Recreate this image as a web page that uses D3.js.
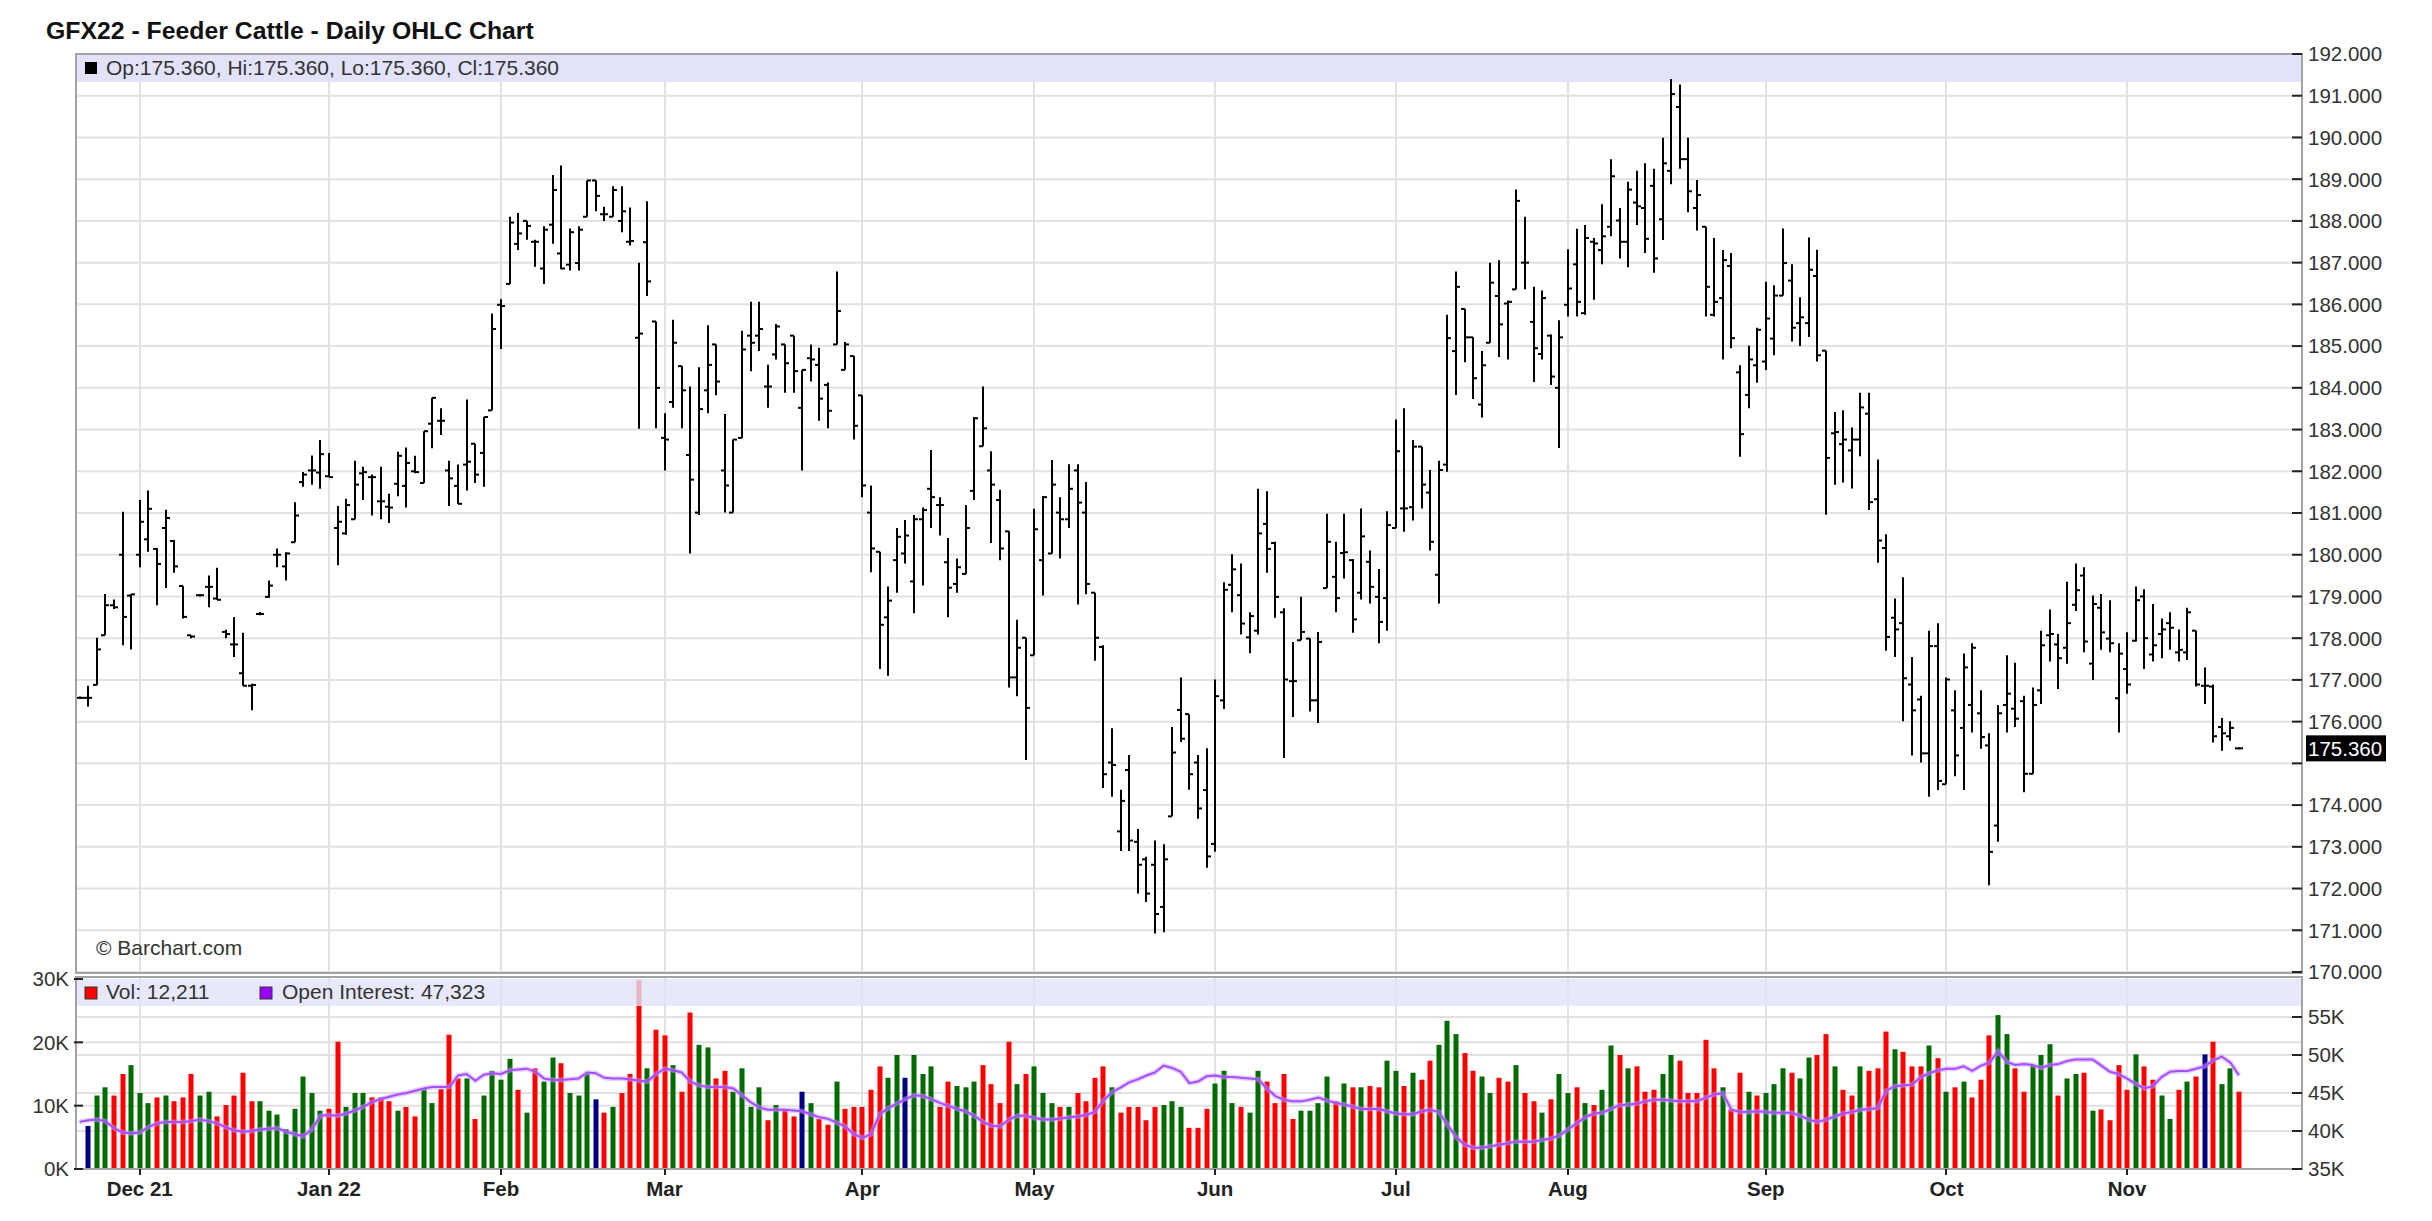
<!DOCTYPE html>
<html><head><meta charset="utf-8">
<script src="https://cdn.jsdelivr.net/npm/d3@7"></script>
<style>body{margin:0;background:#fff}svg{display:block}text{font-family:"Liberation Sans",Arial,sans-serif}</style>
</head><body><svg id="c" width="2432" height="1221"></svg>
<script>
// ---- DATA (one entry per trading day, Nov 19 2021 .. Nov 18 2022) ----
const openP=[176.57,176.57,176.88,178.07,178.79,180.00,179.02,180.00,180.37,180.14,
180.64,180.33,179.25,178.07,179.03,179.23,178.95,178.15,177.85,177.16,
176.86,178.58,178.99,180.00,179.72,180.30,181.74,182.02,181.97,181.88,
180.64,180.51,180.85,181.95,181.86,181.28,181.15,181.70,181.65,182.00,
181.72,183.14,183.21,182.02,181.65,182.16,182.66,182.44,183.46,185.99,
186.49,187.45,188.00,187.50,186.86,187.91,187.22,186.95,186.99,188.10,
188.97,188.16,188.10,188.00,187.50,185.20,187.49,185.59,182.80,183.66,
184.52,182.39,181.01,183.94,185.04,182.02,181.01,182.80,185.25,185.25,
184.03,184.80,185.04,185.25,183.52,184.71,184.55,184.07,185.04,184.43,
184.76,183.82,181.01,180.07,178.50,179.87,180.03,179.36,180.85,181.58,
181.19,179.82,179.30,179.54,181.53,182.60,182.02,181.31,180.56,177.06,
178.01,177.59,179.87,180.03,181.01,180.85,182.02,181.01,179.09,177.79,
175.02,173.37,174.84,173.12,172.70,172.57,171.56,173.73,176.28,176.18,
175.02,174.36,173.07,176.51,179.28,179.03,178.02,178.18,180.74,180.28,
178.62,176.97,177.95,177.99,176.51,179.20,179.47,180.04,179.87,179.09,
179.83,178.99,178.96,180.64,181.11,181.14,182.59,181.49,179.52,182.16,
184.88,185.89,185.21,183.60,185.08,186.20,186.02,186.36,187.00,185.58,
184.81,185.25,184.00,185.99,186.96,185.79,187.50,187.30,187.86,188.01,
187.50,188.44,188.31,188.84,188.04,189.20,190.73,189.48,188.31,187.86,
185.75,186.15,186.92,184.37,183.83,184.54,184.63,185.18,186.21,186.57,
185.55,185.55,186.68,184.89,182.91,182.65,182.50,182.76,183.38,181.33,
180.16,178.49,178.36,176.89,176.53,175.24,177.81,174.50,176.27,175.85,
176.40,176.20,175.43,173.51,176.40,176.31,176.49,174.75,176.75,178.07,
177.85,177.77,178.80,179.50,177.39,178.73,177.99,176.56,177.26,177.94,
179.00,177.61,178.10,178.36,177.66,177.66,178.18,176.86,176.84,175.87,
175.65,175.36];
const highP=[176.60,176.86,178.01,179.06,178.93,181.03,179.06,181.31,181.54,180.16,
181.08,180.35,179.25,178.07,179.05,179.50,179.69,178.20,178.51,178.13,
176.91,178.63,179.38,180.15,180.06,181.26,181.98,182.38,182.75,182.44,
181.17,181.34,182.25,182.11,181.92,182.11,181.46,182.47,182.57,182.37,
182.96,183.76,183.51,182.25,182.16,183.72,182.66,183.30,185.78,186.12,
188.10,188.19,188.00,187.55,187.87,189.10,189.33,187.82,187.87,188.97,
188.97,188.34,188.83,188.83,188.32,187.00,188.47,185.59,183.39,185.63,
184.52,184.03,184.49,185.50,185.04,183.37,182.76,185.37,186.06,186.06,
184.55,185.53,185.04,185.25,184.43,185.04,184.96,184.13,186.79,185.10,
184.76,183.82,181.66,180.07,179.24,180.64,180.83,180.95,181.13,182.51,
181.38,180.40,179.91,181.19,183.30,184.03,182.48,181.56,180.56,178.44,
178.01,181.10,181.41,182.27,181.38,182.17,182.17,181.74,179.09,177.83,
175.84,174.37,175.20,173.43,172.76,173.15,173.06,175.87,177.06,176.18,
175.20,175.36,177.01,179.34,180.01,179.79,178.62,181.58,181.52,180.31,
178.72,177.91,178.99,177.99,178.15,180.98,180.31,180.98,179.90,181.11,
180.10,179.66,181.04,183.24,183.51,182.75,182.59,182.03,182.25,185.75,
186.79,185.89,185.21,184.88,187.00,187.06,186.09,188.75,188.10,186.42,
186.33,185.28,185.62,187.32,187.81,187.90,187.59,188.40,189.48,188.31,
188.94,189.20,189.38,189.25,189.99,191.40,191.27,189.99,188.98,187.86,
187.59,187.30,187.23,184.54,185.01,185.44,186.54,186.46,187.82,186.96,
186.17,187.60,187.31,184.89,183.42,183.46,183.05,183.88,183.88,182.28,
180.49,178.95,179.46,177.55,176.62,178.18,178.36,177.06,176.75,177.63,
177.88,176.75,175.72,176.40,177.59,177.41,176.62,176.82,178.18,178.69,
178.10,179.35,179.79,179.70,179.02,179.06,178.91,177.88,178.14,179.24,
179.17,178.82,178.47,178.62,178.21,178.73,178.18,177.30,176.89,176.09,
176.01,175.36];
const lowP=[176.55,176.36,176.88,178.07,178.70,177.83,177.73,179.70,180.07,178.79,
179.20,179.57,178.47,178.00,179.00,178.74,178.92,178.00,177.55,176.86,
176.27,178.55,178.97,179.70,179.38,180.30,181.63,181.68,181.58,181.86,
179.75,180.48,180.85,181.31,180.94,180.85,180.76,181.40,181.13,181.95,
181.72,182.55,182.87,181.17,181.22,181.54,181.72,181.63,183.46,184.93,
186.49,187.30,187.55,186.90,186.49,187.45,186.84,186.81,186.81,188.10,
188.23,188.00,188.10,187.73,187.41,183.02,186.20,183.03,182.02,183.52,
183.03,180.03,180.95,183.39,183.82,181.01,181.01,182.80,184.40,184.88,
183.52,184.68,183.88,183.88,182.02,184.15,183.21,183.03,185.04,184.43,
182.76,181.38,179.58,177.26,177.10,179.09,179.79,178.60,179.26,180.64,
180.46,178.50,179.09,179.54,181.31,182.60,180.28,179.87,176.82,176.61,
175.08,177.59,179.02,180.03,179.91,180.64,178.81,179.05,177.46,174.41,
174.20,172.90,172.90,171.88,171.68,170.92,170.95,173.73,175.51,174.37,
173.67,172.50,172.88,176.30,178.62,178.09,177.64,178.09,179.57,178.49,
175.13,176.11,177.95,176.24,175.97,179.20,178.62,179.43,178.13,178.93,
178.83,177.88,178.18,180.64,180.55,180.82,181.11,180.10,178.83,181.99,
183.83,184.61,183.73,183.29,185.08,184.74,184.68,186.36,186.36,184.14,
184.68,184.07,182.56,185.71,185.71,185.75,186.11,186.96,187.63,187.10,
186.89,187.90,187.23,186.76,187.54,188.88,189.25,188.21,187.77,185.71,
185.71,184.68,184.95,182.35,183.51,184.12,184.43,184.78,186.21,185.11,
185.00,185.22,184.63,180.96,181.68,181.73,181.59,182.36,181.07,179.81,
177.70,177.55,176.01,175.19,175.02,174.20,174.36,174.50,174.69,174.36,
175.74,175.35,172.08,173.12,175.74,175.87,174.31,174.75,176.42,177.44,
176.78,177.39,178.65,177.66,177.00,177.72,177.66,175.74,176.67,177.92,
177.26,177.44,177.52,177.72,177.44,177.48,176.84,176.42,175.50,175.30,
175.54,175.36];
const closeP=[176.57,176.57,177.73,178.79,178.74,178.51,179.05,180.79,181.10,179.78,
180.88,179.72,178.51,178.04,179.03,179.23,178.92,178.10,177.85,176.86,
176.88,178.58,179.26,180.00,180.03,180.94,181.92,182.02,182.41,181.86,
180.79,181.19,181.68,181.98,181.86,181.28,181.13,182.37,182.20,181.98,
182.96,183.76,183.21,181.83,181.22,182.23,181.92,183.30,185.41,185.96,
187.96,187.70,187.88,187.50,187.79,188.74,186.86,187.73,187.79,188.97,
188.60,188.16,188.74,188.23,187.52,185.30,186.55,184.00,182.76,185.08,
183.94,181.80,183.49,184.55,184.15,181.66,182.76,184.92,185.08,185.41,
184.03,185.47,184.59,184.40,184.43,184.68,183.74,183.45,185.84,185.04,
183.09,181.66,180.15,178.32,178.90,180.43,180.46,180.85,181.07,181.38,
181.19,179.21,179.70,180.64,183.27,183.03,181.68,180.15,177.06,177.77,
176.33,180.61,181.38,181.68,180.85,181.58,181.25,179.30,178.01,174.74,
174.96,174.10,173.15,172.57,171.88,171.39,172.70,175.26,175.59,174.74,
173.92,172.77,176.61,179.16,179.65,178.35,178.53,180.51,180.14,178.99,
177.01,176.97,178.15,176.51,177.91,180.31,178.96,180.06,178.45,180.44,
179.23,178.39,180.71,182.48,181.11,182.59,181.68,180.31,182.03,185.19,
186.42,185.21,184.23,184.54,186.52,185.52,186.06,188.48,187.00,184.95,
186.15,184.27,185.21,186.38,186.06,187.59,187.46,187.63,189.07,187.50,
188.75,188.35,187.57,187.10,189.38,191.04,189.48,188.71,188.62,186.42,
186.06,187.06,185.19,182.89,184.68,185.39,185.66,186.21,186.99,185.44,
185.69,186.83,184.78,182.32,182.94,182.76,182.76,183.53,181.26,180.34,
178.03,178.21,177.04,176.27,175.24,177.81,174.58,177.01,175.19,177.30,
177.77,175.63,172.88,176.20,176.67,176.07,174.75,176.40,177.83,178.10,
177.52,178.36,179.15,177.92,178.82,178.14,177.88,177.63,176.89,178.91,
178.00,177.83,178.21,178.25,177.72,178.62,176.89,176.86,175.65,175.72,
175.85,175.36];
const volume=[0,6800,11600,12900,11600,15000,16400,12000,10400,11300,
11600,10700,11300,15000,11600,12200,8300,10100,11600,15200,
10700,10700,9200,8600,6300,9500,14600,12000,9200,9500,
20100,9800,12000,12000,11300,11300,10700,9200,9800,8300,
12600,10400,12600,21200,14300,14300,7900,11600,15500,14100,
17400,12500,8900,15900,13800,17600,16700,12000,11600,15000,
11000,8900,9800,12000,15000,29800,15900,22000,21100,16400,
12200,24700,19600,19200,14300,15500,12200,15900,9800,12900,
7700,10100,9400,8300,12200,10400,7900,7000,13800,9500,
9800,9800,12500,16200,14400,18000,14400,18000,15000,16200,
9800,13800,13100,12900,13800,16400,13400,10400,20100,13400,
15000,16200,12000,10400,9800,9800,12000,10700,14400,16200,
12900,8900,9800,9800,7700,9800,10100,10700,9800,6500,
6500,9500,13500,15500,10400,9800,8900,15500,13800,10400,
15000,7900,9200,9200,10400,14600,10700,13500,12900,12900,
13100,12900,17100,15500,13100,15200,14100,17100,19600,23400,
21300,18300,15500,14600,12000,14400,13800,16400,12000,10700,
8900,11000,15000,12000,12900,10400,10100,12500,19500,18000,
15900,16200,12200,12500,15000,18000,17100,12000,12000,20400,
15900,12900,9400,15200,12200,11600,12000,13400,15900,15200,
14300,17600,18000,21300,16200,12500,11600,16200,15500,15900,
21700,18900,18500,16200,16200,19500,17500,12200,12900,13800,
11300,14100,21100,24300,21300,15900,12200,16400,18000,19700,
11600,14300,15000,15200,9200,9400,7700,16400,12500,18100,
16200,14100,11600,7900,12500,13800,14600,18100,20100,13400,
15900,12211];
// u = up day (green), d = down day (red), n = unchanged (navy)
const volDirArr=["n","n","u","u","d","d","u","u","u","d",
"u","d","d","d","u","u","d","d","d","d",
"d","u","u","u","u","u","u","u","u","d",
"d","u","u","u","d","d","d","u","d","d",
"u","u","d","d","d","u","d","u","u","u",
"u","d","u","d","u","u","d","u","u","u",
"n","d","u","d","d","d","u","d","d","u",
"d","d","u","u","d","d","u","u","u","u",
"d","u","d","d","n","u","d","d","u","d",
"d","d","d","d","u","u","n","u","u","u",
"d","d","u","u","u","d","d","d","d","u",
"d","u","u","u","d","u","d","d","d","d",
"u","d","d","d","d","d","u","u","u","d",
"d","d","u","u","u","d","u","u","d","d",
"d","d","u","u","u","u","d","u","d","u",
"d","d","u","u","d","u","d","d","u","u",
"u","d","d","u","u","d","d","u","d","d",
"u","d","u","u","d","u","d","u","u","d",
"u","d","d","d","u","u","d","d","d","d",
"d","u","d","d","u","d","u","u","u","d",
"u","u","d","d","u","d","d","u","d","d",
"d","u","d","d","d","u","d","u","d","u",
"d","d","d","u","u","d","d","u","u","u",
"d","u","u","d","u","d","d","d","d","u",
"d","d","u","u","d","u","d","n","d","u",
"u","d"];
const openInterest=[41200,41400,41500,41300,40400,39800,39700,39800,40500,41000,
41200,41200,41200,41300,41500,41300,41000,40500,40100,39900,
40000,40200,40300,40400,39900,39600,39300,40200,42000,42100,
42000,42300,42700,43200,43800,44200,44500,44800,45000,45300,
45600,45800,45800,45800,47300,47500,46600,47400,47600,47500,
48000,48100,48200,47800,46900,46700,46700,46800,46900,47700,
47600,47000,46900,46900,46800,46600,46500,47500,48200,48000,
47700,46500,46000,45800,45800,45800,45600,44700,43800,43100,
42800,42800,42800,42700,42600,42200,41800,41600,41100,40600,
39600,39100,39600,42200,43000,43600,44200,44700,44600,44200,
43700,43300,42900,42600,42000,41200,40700,40600,41500,42000,
42000,41700,41500,41500,41600,41800,41900,42100,42500,44000,
45100,45700,46400,46800,47300,47700,48600,48300,47800,46300,
46500,47200,47300,47100,47100,47000,46900,46800,45600,44600,
44100,43900,43900,44100,44400,44000,43700,43500,43200,42900,
42900,42900,42600,42300,42200,42200,42600,42800,42500,40800,
39200,38200,37800,37800,38000,38200,38400,38600,38600,38600,
38800,39000,39400,40200,41000,41800,42300,42400,42900,43400,
43500,43600,43900,44100,44100,44000,43900,43900,43900,44400,
44800,45000,42800,42500,42500,42600,42500,42400,42400,42400,
42000,41500,41200,41500,41900,42300,42500,42800,42900,43000,
45300,45900,46000,46100,47100,47600,48000,48200,48200,48500,
47900,48600,49000,50500,49100,48700,48800,48700,48300,48700,
48800,49200,49400,49400,49400,48600,47800,47500,46900,46200,
45600,45900,47100,47800,47900,47900,48200,48500,49300,49800,
49000,47323];
const priceTicks=d3.range(170,193,1);
const volTicks=[0,10000,20000,30000];
const oiTicks=[35000,40000,45000,50000,55000];
const monthLabels=["Dec 21","Jan 22","Feb","Mar","Apr","May","Jun","Jul","Aug","Sep","Oct","Nov"];
const monthIndex=[7,29,49,68,91,111,132,153,173,196,217,238];
const titleText="GFX22 - Feeder Cattle - Daily OHLC Chart";

// ---- LAYOUT ----
const svg=d3.select("#c");
const L=76,R=2302,PT=54,PB=973,VT=977,VB=1169;
const n=closeP.length;
const x=d3.scaleLinear().domain([0,n-1]).range([79.5,2239]);
const y=d3.scaleLinear().domain([170,192]).range([972,54]);
const yV=d3.scaleLinear().domain([0,30000]).range([VB,979]);
const yOI=d3.scaleLinear().domain([35000,60000]).range([VB,979]);
const fmt3=d3.format(".3f"), fmtC=d3.format(",");
const gridC="#e1e1e1", frameC="#a3a3a3", bandC="#e2e2fa";
const FS=21;

svg.append("rect").attr("width",2432).attr("height",1221).attr("fill","#fff");

// title
svg.append("text").attr("x",46).attr("y",39).attr("font-size",24.8).attr("font-weight","bold").attr("fill","#111").text(titleText);

// ---- PRICE PANEL ----
const gp=svg.append("g");
gp.selectAll("line.hg").data(priceTicks).join("line")
  .attr("x1",L).attr("x2",R).attr("y1",d=>y(d)).attr("y2",d=>y(d))
  .attr("stroke",gridC).attr("stroke-width",2);
gp.selectAll("line.vg").data(monthIndex).join("line")
  .attr("x1",d=>Math.round(x(d))).attr("x2",d=>Math.round(x(d))).attr("y1",PT).attr("y2",PB)
  .attr("stroke",gridC).attr("stroke-width",2);
// legend band
gp.append("rect").attr("x",L).attr("y",PT).attr("width",R-L).attr("height",28).attr("fill",bandC);
gp.append("rect").attr("x",85).attr("y",62).attr("width",12).attr("height",12).attr("fill","#000");
const li=n-1;
gp.append("text").attr("x",106).attr("y",75).attr("font-size",FS).attr("fill","#333")
  .text(`Op:${fmt3(openP[li])}, Hi:${fmt3(highP[li])}, Lo:${fmt3(lowP[li])}, Cl:${fmt3(closeP[li])}`);

// OHLC bars
const bars=gp.append("g").attr("stroke","#000").attr("stroke-width",2);
d3.range(n).forEach(i=>{
  const cx=Math.round(x(i));
  let yh=y(highP[i]), yl=y(lowP[i]);
  if(yl-yh<2){const m=(yh+yl)/2; yh=m-1; yl=m+1;}
  bars.append("line").attr("x1",cx).attr("x2",cx).attr("y1",yh).attr("y2",yl);
  bars.append("line").attr("x1",cx-4).attr("x2",cx).attr("y1",y(openP[i])).attr("y2",y(openP[i]));
  bars.append("line").attr("x1",cx).attr("x2",cx+4).attr("y1",y(closeP[i])).attr("y2",y(closeP[i]));
});
gp.append("text").attr("x",96).attr("y",955).attr("font-size",FS).attr("fill","#333").text("\u00a9 Barchart.com");
// frame
gp.append("rect").attr("x",L).attr("y",PT).attr("width",R-L).attr("height",PB-PT)
  .attr("fill","none").attr("stroke",frameC).attr("stroke-width",2);
// right axis
const lastY=y(closeP[li]);
gp.selectAll("line.rt").data(priceTicks).join("line")
  .attr("x1",R-10).attr("x2",R).attr("y1",d=>y(d)).attr("y2",d=>y(d)).attr("stroke","#222").attr("stroke-width",2);
gp.selectAll("text.rl").data(priceTicks.filter(d=>Math.abs(y(d)-lastY)>22)).join("text")
  .attr("x",R+6).attr("y",d=>y(d)).attr("dy","0.36em").attr("font-size",20.5).attr("fill","#333").text(d=>fmt3(d));
gp.append("rect").attr("x",R+4).attr("y",lastY-13).attr("width",80).attr("height",26).attr("fill","#000");
gp.append("text").attr("x",R+6).attr("y",lastY).attr("dy","0.36em").attr("font-size",20.5).attr("fill","#fff").text(fmt3(closeP[li]));

// ---- VOLUME PANEL ----
const gv=svg.append("g");
gv.selectAll("line.vh").data([10000,20000]).join("line")
  .attr("x1",L).attr("x2",R).attr("y1",d=>yV(d)).attr("y2",d=>yV(d)).attr("stroke",gridC).attr("stroke-width",2);
gv.selectAll("line.oh").data([40000,45000,50000,55000]).join("line")
  .attr("x1",L).attr("x2",R).attr("y1",d=>yOI(d)).attr("y2",d=>yOI(d)).attr("stroke",gridC).attr("stroke-width",2);
gv.selectAll("line.vv").data(monthIndex).join("line")
  .attr("x1",d=>Math.round(x(d))).attr("x2",d=>Math.round(x(d))).attr("y1",VT).attr("y2",VB)
  .attr("stroke",gridC).attr("stroke-width",2);
const colorOf={u:"#006b00",d:"#ff0000",n:"#000080"};
gv.selectAll("rect.vb").data(d3.range(n).filter(i=>volume[i]>0)).join("rect")
  .attr("x",i=>Math.round(x(i))-2.5).attr("width",5)
  .attr("y",i=>yV(volume[i])).attr("height",i=>VB-yV(volume[i]))
  .attr("fill",i=>colorOf[volDirArr[i]]);
const oiLine=d3.line().x((d,i)=>x(i)).y(d=>yOI(d));
gv.append("path").attr("d",oiLine(openInterest)).attr("fill","none").attr("stroke","#c99eff").attr("stroke-width",5).attr("opacity",0.5);
gv.append("path").attr("d",oiLine(openInterest)).attr("fill","none").attr("stroke","#a64dff").attr("stroke-width",2);
gv.append("rect").attr("x",L).attr("y",VT+2).attr("width",R-L).attr("height",27).attr("fill",bandC).attr("opacity",0.8);
gv.append("rect").attr("x",85).attr("y",987).attr("width",12).attr("height",12).attr("fill","#ff0000").attr("stroke","#333").attr("stroke-width",1);
gv.append("text").attr("x",106).attr("y",999).attr("font-size",FS).attr("fill","#333").text(`Vol: ${fmtC(volume[li])}`);
gv.append("rect").attr("x",260).attr("y",987).attr("width",12).attr("height",12).attr("fill","#9900ff").attr("stroke","#333").attr("stroke-width",1);
gv.append("text").attr("x",282).attr("y",999).attr("font-size",FS).attr("fill","#333").text(`Open Interest: ${fmtC(openInterest[li])}`);
gv.append("rect").attr("x",L).attr("y",VT).attr("width",R-L).attr("height",VB-VT)
  .attr("fill","none").attr("stroke",frameC).attr("stroke-width",2);
// left axis (volume)
gv.selectAll("line.lt").data(volTicks).join("line")
  .attr("x1",L-2).attr("x2",L+7).attr("y1",d=>yV(d)).attr("y2",d=>yV(d)).attr("stroke","#222").attr("stroke-width",2);
gv.selectAll("text.ll").data(volTicks).join("text")
  .attr("x",L-7).attr("y",d=>yV(d)).attr("dy","0.36em").attr("text-anchor","end").attr("font-size",20.5).attr("fill","#333")
  .text(d=>(d/1000)+"K");
// right axis (open interest)
gv.selectAll("line.ot").data(oiTicks).join("line")
  .attr("x1",R-10).attr("x2",R).attr("y1",d=>yOI(d)).attr("y2",d=>yOI(d)).attr("stroke","#222").attr("stroke-width",2);
gv.selectAll("text.ol").data(oiTicks).join("text")
  .attr("x",R+6).attr("y",d=>yOI(d)).attr("dy","0.36em").attr("font-size",20.5).attr("fill","#333").text(d=>(d/1000)+"K");
// x axis
gv.selectAll("line.xt").data(monthIndex).join("line")
  .attr("x1",d=>Math.round(x(d))).attr("x2",d=>Math.round(x(d))).attr("y1",VB).attr("y2",VB+6).attr("stroke","#222").attr("stroke-width",2);
gv.selectAll("text.xl").data(monthIndex).join("text")
  .attr("x",d=>x(d)).attr("y",1196).attr("text-anchor","middle").attr("font-size",20.5).attr("font-weight","bold").attr("fill","#222")
  .text((d,i)=>monthLabels[i]);
</script></body></html>
